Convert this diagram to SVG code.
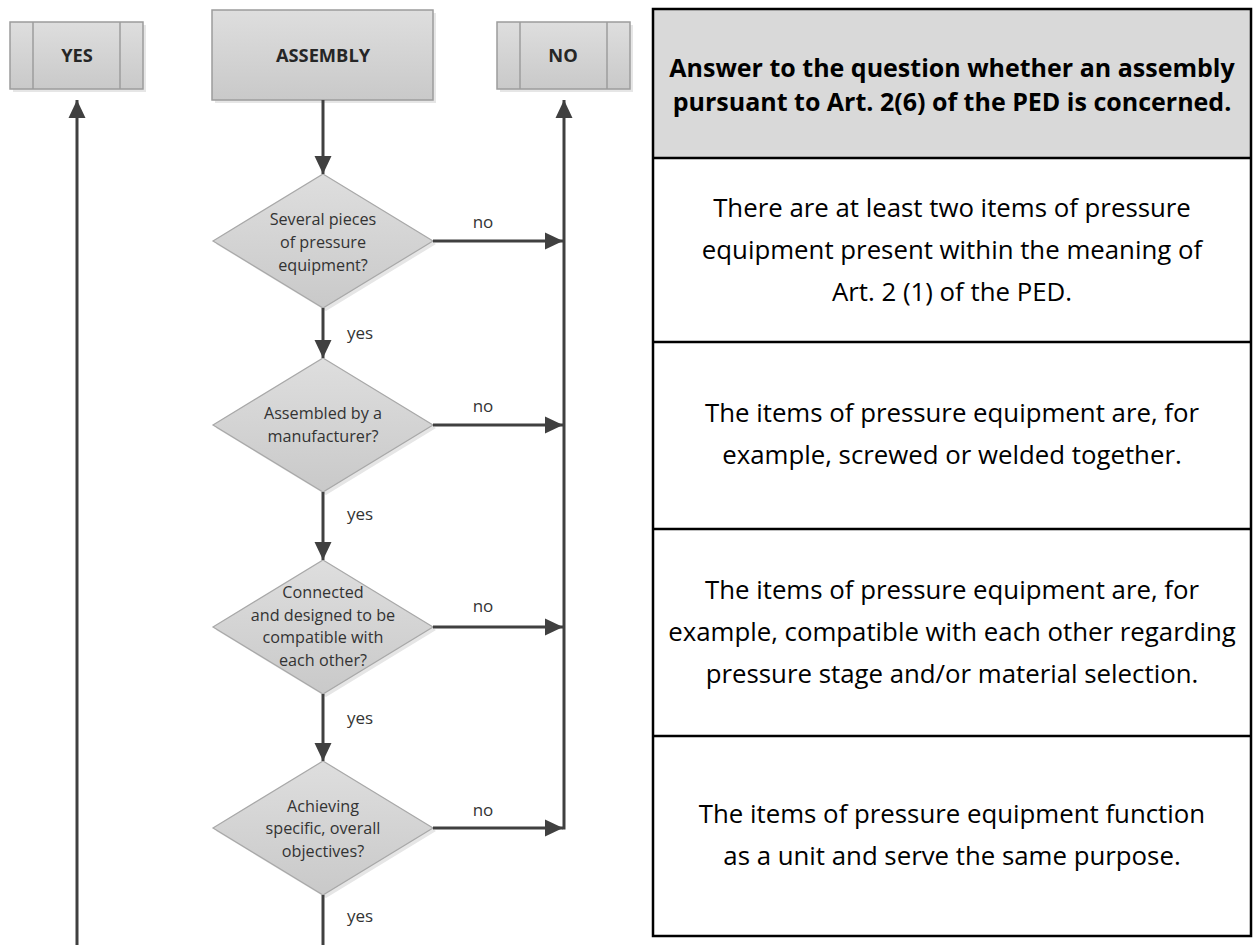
<svg xmlns="http://www.w3.org/2000/svg" width="1253" height="945" viewBox="0 0 1253 945">
<defs>
<linearGradient id="gfill" x1="0" y1="0" x2="0" y2="1">
<stop offset="0" stop-color="#dedede"/>
<stop offset="1" stop-color="#c9c9c9"/>
</linearGradient>
<marker id="arr" markerUnits="userSpaceOnUse" markerWidth="18" markerHeight="18" refX="18" refY="8.5" orient="auto" viewBox="0 0 18 17">
<path d="M0,0 L18,8.5 L0,17 z" fill="#404040"/>
</marker>
<style>
.box{fill:url(#gfill);stroke:#9c9c9c;stroke-width:1.5}
.shadow{fill:#e6e6e6}
.inner{stroke:#9c9c9c;stroke-width:1.5}
.dia{fill:url(#gfill);stroke:#a8a8a8;stroke-width:1.2}
.conn{fill:none;stroke:#404040;stroke-width:3}
.bt{font-family:"Open Sans","Noto Sans",sans-serif;font-weight:bold;font-size:18.3px;fill:#262626;text-anchor:middle}
.dt{font-family:"Open Sans","Noto Sans",sans-serif;font-size:16.2px;fill:#333333;text-anchor:middle}
.lbl{font-family:"Open Sans","Noto Sans",sans-serif;font-size:17px;fill:#333333;text-anchor:middle}
.tb{fill:none;stroke:#000;stroke-width:2.5}
.th{font-family:"Open Sans","Noto Sans",sans-serif;font-weight:bold;font-size:25px;fill:#000;text-anchor:middle}
.td{font-family:"Open Sans","Noto Sans",sans-serif;font-size:25.8px;fill:#000;text-anchor:middle}
</style>
</defs>
<rect width="1253" height="945" fill="#ffffff"/>

<g id="yes">
<rect class="shadow" x="13" y="25" width="133" height="67"/>
<rect class="box" x="10" y="22" width="133" height="67"/>
<line class="inner" x1="33" y1="22" x2="33" y2="89"/>
<line class="inner" x1="120" y1="22" x2="120" y2="89"/>
<text class="bt" x="77" y="62">YES</text>
</g>

<g id="assembly">
<rect class="shadow" x="215" y="13" width="221" height="90"/>
<rect class="box" x="212" y="10" width="221" height="90"/>
<text class="bt" x="323" y="62">ASSEMBLY</text>
</g>

<g id="no">
<rect class="shadow" x="500" y="25" width="133" height="67"/>
<rect class="box" x="497" y="22" width="133" height="67"/>
<line class="inner" x1="520" y1="22" x2="520" y2="89"/>
<line class="inner" x1="607" y1="22" x2="607" y2="89"/>
<text class="bt" x="563" y="62">NO</text>
</g>

<g id="q1">
<polygon class="shadow" points="326,177 436,244 326,311 216,244"/>
<polygon class="dia" points="323,174 433,241 323,308 213,241"/>
<text class="dt"><tspan x="323" y="225">Several pieces</tspan><tspan x="323" y="248">of pressure</tspan><tspan x="323" y="271">equipment?</tspan></text>
</g>

<g id="q2">
<polygon class="shadow" points="326,361 436,428 326,495 216,428"/>
<polygon class="dia" points="323,358 433,425 323,492 213,425"/>
<text class="dt"><tspan x="323" y="419">Assembled by a</tspan><tspan x="323" y="442">manufacturer?</tspan></text>
</g>

<g id="q3">
<polygon class="shadow" points="326,563 436,630 326,697 216,630"/>
<polygon class="dia" points="323,560 433,627 323,694 213,627"/>
<text class="dt"><tspan x="323" y="598">Connected</tspan><tspan x="323" y="621">and designed to be</tspan><tspan x="323" y="643">compatible with</tspan><tspan x="323" y="666">each other?</tspan></text>
</g>

<g id="q4">
<polygon class="shadow" points="326,764 436,831 326,898 216,831"/>
<polygon class="dia" points="323,761 433,828 323,895 213,828"/>
<text class="dt"><tspan x="323" y="812">Achieving</tspan><tspan x="323" y="834">specific, overall</tspan><tspan x="323" y="857">objectives?</tspan></text>
</g>

<g id="connectors">
<path class="conn" d="M323,100 L323,174" marker-end="url(#arr)"/>
<path class="conn" d="M323,308 L323,358" marker-end="url(#arr)"/>
<path class="conn" d="M323,492 L323,560" marker-end="url(#arr)"/>
<path class="conn" d="M323,694 L323,761" marker-end="url(#arr)"/>
<path class="conn" d="M323,895 L323,945"/>
<path class="conn" d="M433,241 L563,241" marker-end="url(#arr)"/>
<path class="conn" d="M433,425 L563,425" marker-end="url(#arr)"/>
<path class="conn" d="M433,627 L563,627" marker-end="url(#arr)"/>
<path class="conn" d="M433,828 L563,828" marker-end="url(#arr)"/>
<path class="conn" d="M564,829.5 L564,100" marker-end="url(#arr)"/>
<path class="conn" d="M77,945 L77,100" marker-end="url(#arr)"/>
<text class="lbl" x="483" y="228">no</text>
<text class="lbl" x="483" y="412">no</text>
<text class="lbl" x="483" y="612">no</text>
<text class="lbl" x="483" y="816">no</text>
<text class="lbl" x="360" y="339">yes</text>
<text class="lbl" x="360" y="520">yes</text>
<text class="lbl" x="360" y="724">yes</text>
<text class="lbl" x="360" y="922">yes</text>
</g>

<g id="table">
<rect x="653" y="9" width="598" height="149" fill="#d9d9d9"/>
<rect class="tb" x="653" y="9" width="598" height="927"/>
<line class="tb" x1="653" y1="158" x2="1251" y2="158"/>
<line class="tb" x1="653" y1="342" x2="1251" y2="342"/>
<line class="tb" x1="653" y1="529" x2="1251" y2="529"/>
<line class="tb" x1="653" y1="736" x2="1251" y2="736"/>
<text class="th"><tspan x="952" y="77">Answer to the question whether an assembly</tspan><tspan x="952" y="111">pursuant to Art. 2(6) of the PED is concerned.</tspan></text>
<text class="td"><tspan x="952" y="217">There are at least two items of pressure</tspan><tspan x="952" y="259">equipment present within the meaning of</tspan><tspan x="952" y="301">Art. 2 (1) of the PED.</tspan></text>
<text class="td"><tspan x="952" y="422">The items of pressure equipment are, for</tspan><tspan x="952" y="464">example, screwed or welded together.</tspan></text>
<text class="td"><tspan x="952" y="599">The items of pressure equipment are, for</tspan><tspan x="952" y="641">example, compatible with each other regarding</tspan><tspan x="952" y="683">pressure stage and/or material selection.</tspan></text>
<text class="td"><tspan x="952" y="823">The items of pressure equipment function</tspan><tspan x="952" y="865">as a unit and serve the same purpose.</tspan></text>
</g>
</svg>
